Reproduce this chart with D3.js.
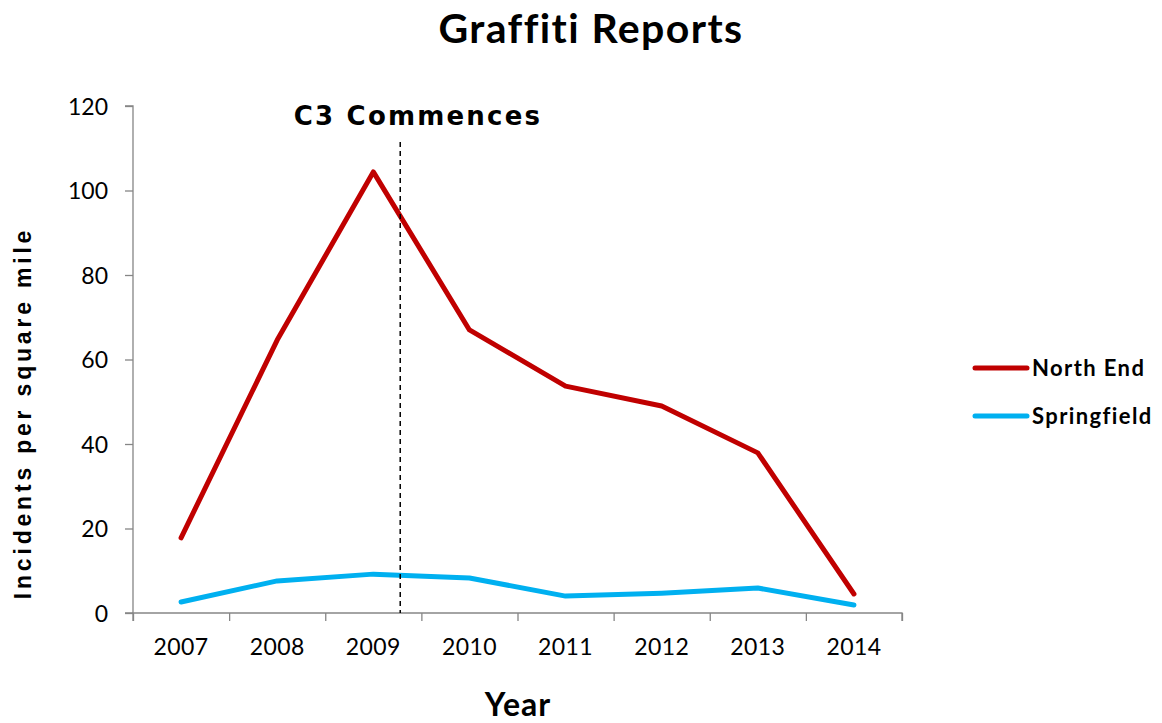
<!DOCTYPE html>
<html><head><meta charset="utf-8">
<script src="https://cdn.jsdelivr.net/npm/d3@7"></script>
<style>body{margin:0;background:#fff}</style>
</head><body>
<svg id="c" width="1162" height="723"></svg>
<script>
const years = [2007, 2008, 2009, 2010, 2011, 2012, 2013, 2014];
const northEnd = [17.8, 64.6, 104.4, 67.0, 53.7, 49.0, 37.9, 4.5];
const springfield = [2.6, 7.6, 9.2, 8.3, 4.0, 4.7, 5.9, 1.9];
const seriesNames = ["North End", "Springfield"];
const seriesColors = ["#C00000", "#00B0F0"];
const yTicks = [0, 20, 40, 60, 80, 100, 120];
const c3Year = 2009.28;
const c3Top = 111.5;

const svg = d3.select("#c");
const m = {l: 133, r: 902, t: 106, b: 613};
const x = d3.scaleLinear().domain([2006.5, 2014.5]).range([m.l, m.r]);
const y = d3.scaleLinear().domain([0, 120]).range([m.b, m.t]);
const axisColor = "#868686";
const lab = "Lato, Calibri, Carlito, 'Open Sans', sans-serif";
const arialB = "'Liberation Sans', Arial, sans-serif";

// Y axis
const ya = svg.append("g").attr("transform", `translate(${m.l},0)`)
  .call(d3.axisLeft(y).tickValues(yTicks).tickSize(8).tickPadding(17).tickFormat(d3.format("d")));
ya.select(".domain").attr("stroke", axisColor).attr("stroke-width", 1.3).attr("d", `M-8,${m.t}H0V${m.b}H-8`);
ya.selectAll(".tick line").attr("stroke", axisColor).attr("stroke-width", 1.3);
ya.selectAll("text").attr("font-family", lab).attr("font-size", 23).attr("fill", "#000").attr("dy", "0.35em");

// X axis
const bounds = d3.range(2006.5, 2015, 1);
const xa = svg.append("g").attr("transform", `translate(0,${m.b})`)
  .call(d3.axisBottom(x).tickValues(bounds).tickSize(8).tickFormat(""));
xa.select(".domain").attr("stroke", axisColor).attr("stroke-width", 1.3).attr("d", `M${m.l},8V0H${m.r}V8`);
xa.selectAll(".tick line").attr("stroke", axisColor).attr("stroke-width", 1.3);
svg.append("g").selectAll("text").data(years).join("text")
  .attr("x", d => x(d)).attr("y", m.b + 42).attr("text-anchor", "middle")
  .attr("font-family", lab).attr("font-size", 23).attr("letter-spacing", 0.4).text(d => d);

// Lines
const line = d3.line().x((d, i) => x(years[i])).y(d => y(d));
[northEnd, springfield].forEach((s, i) => {
  svg.append("path").datum(s).attr("d", line).attr("fill", "none")
    .attr("stroke", seriesColors[i]).attr("stroke-width", 5)
    .attr("stroke-linecap", "round").attr("stroke-linejoin", "round");
});

// C3 dashed line
svg.append("line").attr("x1", x(c3Year)).attr("x2", x(c3Year))
  .attr("y1", y(c3Top)).attr("y2", y(0))
  .attr("stroke", "#000").attr("stroke-width", 1.5).attr("stroke-dasharray", "5,4");
svg.append("text").attr("x", 418).attr("y", 125).attr("text-anchor", "middle")
  .attr("font-family", "'DejaVu Sans', Verdana, sans-serif").attr("font-weight", "bold")
  .attr("font-size", 26).attr("letter-spacing", 2.2).text("C3 Commences");

// Title
svg.append("text").attr("x", 591).attr("y", 43).attr("text-anchor", "middle")
  .attr("font-family", lab).attr("font-weight", "bold").attr("font-size", 41)
  .attr("letter-spacing", 1.4).text("Graffiti Reports");

// Axis titles
svg.append("text").attr("x", 518).attr("y", 716).attr("text-anchor", "middle")
  .attr("font-family", lab).attr("font-weight", "bold").attr("font-size", 32)
  .attr("letter-spacing", 1).text("Year");
svg.append("text").attr("transform", "translate(31,413) rotate(-90)").attr("text-anchor", "middle")
  .attr("font-family", arialB).attr("font-weight", "bold")
  .attr("font-size", 23).attr("letter-spacing", 3.8).text("Incidents per square mile");

// Legend
const lg = svg.append("g");
seriesNames.forEach((n, i) => {
  const yy = 368 + i * 48;
  lg.append("line").attr("x1", 975).attr("x2", 1027).attr("y1", yy).attr("y2", yy)
    .attr("stroke", seriesColors[i]).attr("stroke-width", 5).attr("stroke-linecap", "round");
  lg.append("text").attr("x", 1032).attr("y", yy + 8).attr("font-family", lab)
    .attr("font-weight", "bold").attr("font-size", 22).attr("letter-spacing", 1.4).text(n);
});
</script>
</body></html>
